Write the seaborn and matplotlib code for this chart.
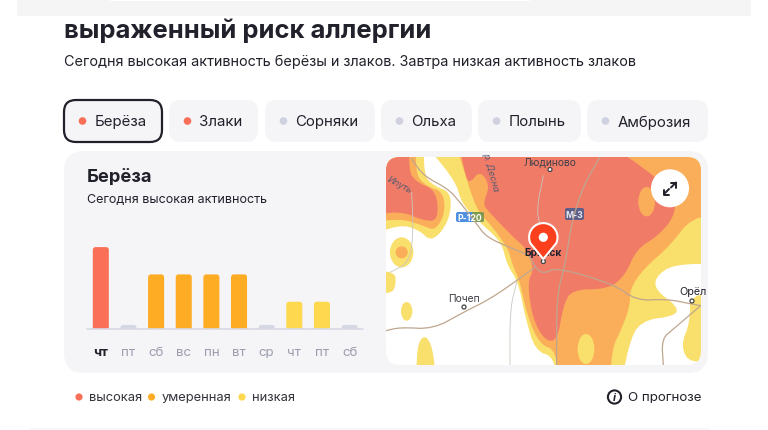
import numpy as np
import pandas as pd
import matplotlib
matplotlib.use("Agg")
import matplotlib.pyplot as plt
import seaborn as sns
from matplotlib.patches import FancyBboxPatch, Circle, Polygon, Ellipse

# chart data
days = ["чт", "пт", "сб", "вс", "пн", "вт", "ср", "чт", "пт", "сб"]
activity = [3, 0.15, 2, 2, 2, 2, 0.15, 1, 1, 0.15]
levels = ["высокая", "нет", "умеренная", "умеренная", "умеренная", "умеренная", "нет", "низкая", "низкая", "нет"]
level_names = ["высокая", "умеренная", "низкая", "нет"]
level_colors = ["#F96F58", "#FEAC24", "#FED84F", "#D5D7E3"]

# chips above the card
chip_names = ["Берёза", "Злаки", "Сорняки", "Ольха", "Полынь", "Амброзия"]
chip_left = [64, 169, 265, 381, 478, 587]
chip_right = [162, 258, 375, 472, 581, 708]
chip_dots = ["#F96F58", "#F96F58", "#CFD1E0", "#CFD1E0", "#CFD1E0", "#CFD1E0"]

red_left = [(18, 25), (92, 25), (85, 65), (110, 100), (170, 125), (175, 215), (130, 215), (60, 185), (18, 205)]
orange_left = [(18, 25), (112, 25), (105, 75), (140, 112), (190, 128), (195, 195), (165, 245), (130, 230), (60, 208), (18, 225)]
yellow_left = [(18, 25), (135, 25), (130, 80), (165, 112), (212, 130), (212, 195), (185, 250), (150, 275), (120, 245), (60, 225), (18, 272)]
yellow_main = [(93, 25), (962, 25), (962, 345), (880, 345), (825, 385), (828, 425), (890, 470), (890, 500), (780, 515), (745, 590), (720, 650),
               (530, 650), (525, 625), (465, 605), (435, 500), (415, 400), (380, 345), (365, 280), (305, 225), (245, 165), (225, 90)]
orange_main = [(215, 25), (962, 25), (962, 195), (935, 205), (870, 290), (790, 360), (750, 420), (750, 470), (725, 540), (695, 600), (690, 650),
               (535, 650), (530, 605), (478, 585), (442, 500), (420, 400), (395, 340), (385, 300), (335, 230), (295, 190), (265, 110)]
red_main = [(228, 25), (618, 25), (790, 55), (885, 135), (885, 200), (835, 260), (770, 300), (735, 380), (685, 420), (575, 422), (550, 470),
            (532, 575), (495, 575), (458, 510), (442, 400), (462, 360), (440, 300), (400, 265), (328, 190), (308, 165), (330, 110), (300, 65), (272, 100), (258, 90)]
yellow_right = [(962, 435), (930, 435), (930, 520), (902, 590), (930, 645), (962, 625)]
yellow_bottom = [(110, 650), (110, 590), (135, 555), (160, 600), (170, 650)]
yellow_edge = [(18, 370), (45, 365), (48, 410), (32, 435), (18, 430)]

road_a = [(95, 30), (130, 80), (205, 120), (240, 160), (290, 225), (320, 265), (400, 300), (450, 320), (465, 355), (490, 375), (530, 355), (700, 405), (770, 455), (860, 450), (935, 465), (962, 470)]
road_b = [(18, 545), (60, 535), (160, 540), (250, 490), (330, 450), (410, 395), (465, 355)]
road_c = [(660, 25), (610, 110), (575, 220), (555, 350), (530, 440), (530, 650)]
road_d = [(962, 470), (880, 540), (845, 570), (850, 650)]
thin_a = [(410, 400), (390, 480), (390, 650)]
thin_b = [(490, 80), (470, 180), (480, 230)]
thin_c = [(95, 130), (100, 240), (90, 340), (30, 370)]

TEXT = "#21212B"
FONT = "Inter"


def zx(v):
    return 380 + v / 3


def zy(v):
    return 150 + v / 3


def push_out(points):
    # points on the map edge go well past it, so smoothing happens outside the clip
    out = []
    for a, b in points:
        a = -60 if a == 18 else 1040 if a == 962 else a
        b = -60 if b == 25 else 730 if b == 650 else b
        out.append((a, b))
    return out


def smooth(points, closed=True, n=3):
    pts = np.array([(zx(a), zy(b)) for a, b in points], dtype=float)
    for _ in range(n):
        if closed:
            nxt = np.roll(pts, -1, axis=0)
            pts = np.column_stack([0.75 * pts + 0.25 * nxt, 0.25 * pts + 0.75 * nxt]).reshape(-1, 2)
        else:
            a, b = pts[:-1], pts[1:]
            mid = np.column_stack([0.75 * a + 0.25 * b, 0.25 * a + 0.75 * b]).reshape(-1, 2)
            pts = np.vstack([pts[0], mid, pts[-1]])
    return pts


def round_box(ax, x0, y0, x1, y1, r, **kw):
    box = FancyBboxPatch((x0, y0), x1 - x0, y1 - y0, boxstyle=f"round,pad=0,rounding_size={r}", **kw)
    ax.add_patch(box)
    return box


sns.set_theme(style="white")
plt.rcParams["font.family"] = [FONT, "DejaVu Sans"]

fig = plt.figure(figsize=(7.68, 4.31), dpi=100)
bg = fig.add_axes([0, 0, 1, 1])
bg.set_xlim(0, 768)
bg.set_ylim(431, 0)
bg.axis("off")

# page furniture
bg.add_patch(plt.Rectangle((17, 0), 734, 17, color="#F6F5F5", lw=0))
bg.add_patch(plt.Rectangle((110, 0), 420, 2, color="#FFFFFF", lw=0))
bg.add_patch(plt.Rectangle((30, 429), 680, 2, color="#F8F8F8", lw=0))
bg.text(64, 31, "выраженный риск аллергии", fontsize=18.4, fontweight="bold", color=TEXT, va="center")
bg.text(64, 62, "Сегодня высокая активность берёзы и злаков. Завтра низкая активность злаков", fontsize=10.4, color=TEXT, va="center")

for i, name in enumerate(chip_names):
    selected = i == 0
    round_box(bg, chip_left[i], 101, chip_right[i], 143, 12, fc="#F5F5F8",
              ec=TEXT if selected else "none", lw=1.6 if selected else 0)
    bg.add_patch(Circle((chip_left[i] + 18.5, 122), 3.8, fc=chip_dots[i], ec="none"))
    bg.text(chip_left[i] + 30.5, 122.5, name, fontsize=10.8, color=TEXT, va="center")

# card
round_box(bg, 64, 152, 708, 374, 20, fc="#F5F5F8", ec="none")
bg.text(87, 178, "Берёза", fontsize=13.2, fontweight="bold", color=TEXT, va="center")
bg.text(87, 200, "Сегодня высокая активность", fontsize=9.0, color=TEXT, va="center")

# map
clip = round_box(bg, 386, 158, 701, 366, 14, fc="#FFFFFF", ec="none")
map_yellow = "#F9DF6C"
map_orange = "#FBAE5A"
map_red = "#F07C68"
for shape, col in [(yellow_main, map_yellow), (yellow_left, map_yellow), (yellow_right, map_yellow),
                   (yellow_bottom, map_yellow), (yellow_edge, map_yellow), (orange_main, map_orange),
                   (orange_left, map_orange), (red_main, map_red), (red_left, map_red)]:
    p = Polygon(smooth(push_out(shape), n=2), closed=True, fc=col, ec="none")
    bg.add_patch(p)
    p.set_clip_path(clip)

for cx, cy, w, h, col in [(800, 158, 50, 88, map_orange), (65, 310, 70, 90, map_yellow), (65, 310, 36, 36, map_orange),
                          (80, 487, 34, 56, map_yellow), (618, 600, 50, 90, map_yellow)]:
    e = Ellipse((zx(cx), zy(cy)), w / 3, h / 3, fc=col, ec="none")
    bg.add_patch(e)
    e.set_clip_path(clip)

for road in [road_a, road_b, road_c, road_d]:
    pts = smooth(road, closed=False, n=2)
    line, = bg.plot(pts[:, 0], pts[:, 1], color="#BFA68F", lw=0.9)
    line.set_clip_path(clip)
for road in [thin_a, thin_b, thin_c]:
    pts = smooth(road, closed=False, n=2)
    line, = bg.plot(pts[:, 0], pts[:, 1], color="#C9C6C0", lw=0.6)
    line.set_clip_path(clip)

map_text = "#3F3F47"
t = bg.text(550, 162, "Людиново", fontsize=7.4, color=map_text, ha="center", va="center")
t.set_clip_path(clip)
bg.text(464, 299.5, "Почеп", fontsize=7.4, color=map_text, ha="center", va="center")
bg.text(543.5, 253, "Брянск", fontsize=7.4, fontweight="bold", color=TEXT, ha="center", va="center")
t = bg.text(679, 292, "Орёл", fontsize=7.8, color=TEXT, va="center")
t.set_clip_path(clip)
bg.text(400, 185, "Ипуть", fontsize=6.6, color="#5A5A70", style="italic", rotation=-28, ha="center", va="center")
t = bg.text(491, 172, "р. Десна", fontsize=6.6, color="#5A5A70", style="italic", rotation=-75, ha="center", va="center")
t.set_clip_path(clip)
for cx, cy in [(550, 170.5), (464, 308), (692, 302), (543.3, 262.5)]:
    bg.add_patch(Circle((cx, cy), 2, fc="#FFFFFF", ec="#444444", lw=0.9, zorder=4))

round_box(bg, 456, 213, 484, 223, 2, fc="#4E8FE0", ec="none")
round_box(bg, 472, 213, 484, 223, 2, fc="#7F9B50", ec="none")
bg.text(470, 218.3, "Р-120", fontsize=6.2, color="#FFFFFF", fontweight="bold", ha="center", va="center")
round_box(bg, 565, 209, 584, 221, 2, fc="#5E5F88", ec="none")
bg.text(574.5, 215.3, "М-3", fontsize=6.2, color="#E8E8F0", fontweight="bold", ha="center", va="center")

# pin
head = np.linspace(np.radians(205), np.radians(-25), 40)
pin_shape = np.vstack([[543.3, 260], np.column_stack([543.3 + 14.2 * np.cos(head), 238.3 - 14.2 * np.sin(head)])])
bg.add_patch(Polygon(pin_shape, closed=True, fc="#FC3F1D", ec="#FFFFFF", lw=1.5, joinstyle="round", zorder=5))
bg.add_patch(Circle((543.3, 238.3), 4.6, fc="#FFFFFF", ec="none", zorder=6))

# expand button
bg.add_patch(Circle((670, 189.3), 19, fc="#FFFFFF", ec="none", zorder=5))
for (x0, y0, x1, y1) in [(664, 195, 669, 190), (676, 183.5, 671, 188.5)]:
    bg.plot([x0, x1], [y0, y1], color=TEXT, lw=1.4, zorder=6)
for verts in [[(664, 190.5), (664, 195.5), (669, 195.5)], [(671, 183.5), (676, 183.5), (676, 188.5)]]:
    v = np.array(verts)
    bg.plot(v[:, 0], v[:, 1], color=TEXT, lw=1.4, zorder=6)

# legend row
for x, col, name in [(79, level_colors[0], level_names[0]), (151.5, level_colors[1], level_names[1]), (242, level_colors[2], level_names[2])]:
    bg.add_patch(Circle((x, 398), 3.6, fc=col, ec="none"))
    bg.text(x + 10, 398.5, name, fontsize=9.3, color="#33333D", va="center")
bg.add_patch(Circle((614.5, 398), 6.6, fc="none", ec=TEXT, lw=1.5))
bg.text(614.5, 398, "i", fontsize=8, fontweight="bold", color=TEXT, ha="center", va="center", style="italic")
bg.text(628, 398.5, "О прогнозе", fontsize=9.6, color=TEXT, va="center")

# bar chart
W, H = 768, 431
left, right, top, base = 87, 363.4, 240, 330
ax = fig.add_axes([left / W, 1 - base / H, (right - left) / W, (base - top) / H])
ax.patch.set_alpha(0)
df = pd.DataFrame({"pos": range(len(days)), "activity": activity, "level": levels})
sns.barplot(data=df, x="pos", y="activity", hue="level", hue_order=level_names, palette=level_colors,
            saturation=1, dodge=False, legend=False, width=0.58, ax=ax)
ax.set_xlim(-0.5, 9.5)
ax.set_ylim(0, 90 / 27.3)
ax.set_xlabel("")
ax.set_ylabel("")
ax.set_yticks([])
ax.set_xticks(range(len(days)))
ax.set_xticklabels(days, fontsize=9.6, color="#9B9DAE")
ax.get_xticklabels()[0].set_color(TEXT)
ax.get_xticklabels()[0].set_fontweight("bold")
ax.tick_params(axis="x", length=0, pad=12)
sns.despine(ax=ax, left=True, bottom=True)
ax.axhline(0, color="#D8D9E5", lw=1.2, clip_on=False, zorder=5)

# swap the square bars for ones with rounded tops
aspect = (1 / 27.3) / (1 / 27.64)
for bar in list(ax.patches):
    x0, w, h = bar.get_x(), bar.get_width(), bar.get_height()
    if not h or np.isnan(h):
        bar.remove()
        continue
    col = bar.get_facecolor()
    rounded = FancyBboxPatch((x0, -0.3), w, h + 0.3, boxstyle="round,pad=0,rounding_size=0.1",
                             mutation_aspect=aspect, fc=col, ec="none")
    ax.add_patch(rounded)
    bar.remove()

fig.savefig("out.png", dpi=100)
